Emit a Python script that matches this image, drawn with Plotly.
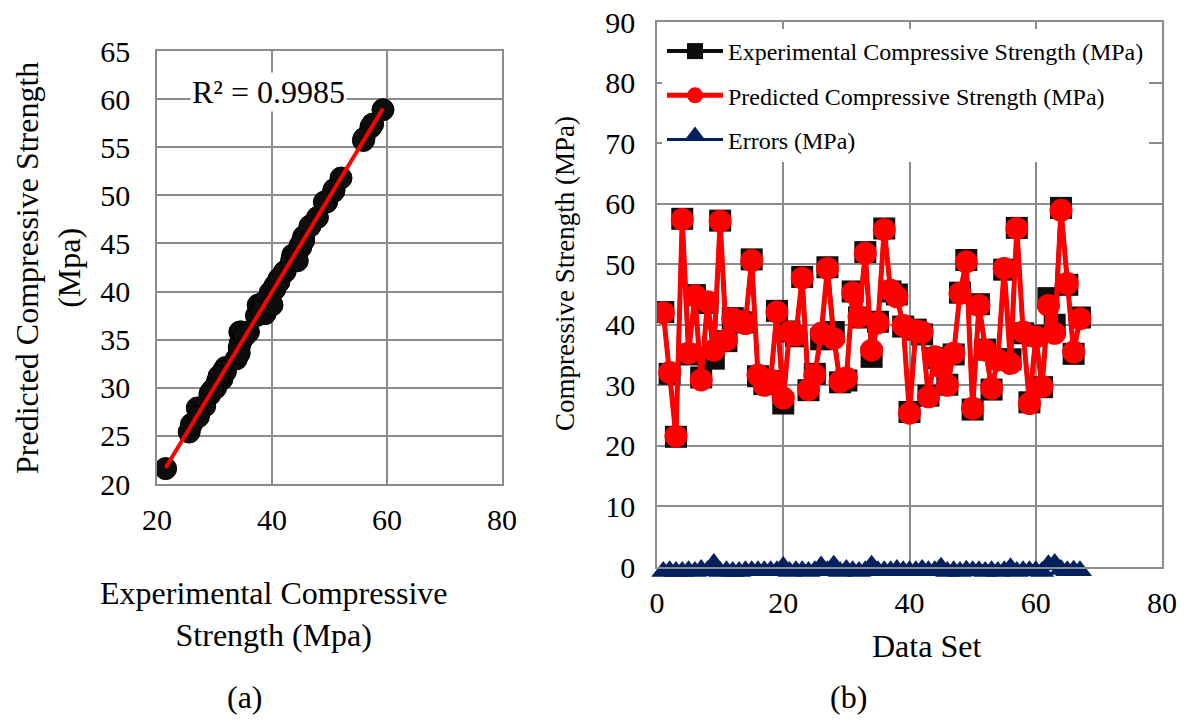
import numpy as np
import plotly.graph_objects as go

data_set = list(range(1, 68))
predicted = [42.0, 32.1, 21.6, 57.4, 35.3, 44.8, 30.9, 43.8, 35.8, 57.1,
             37.5, 41.0, 40.6, 40.2, 50.6, 31.7, 30.0, 30.9, 42.1, 27.9,
             38.8, 38.3, 47.7, 29.3, 31.7, 38.6, 49.3, 37.7, 30.6, 31.2,
             45.3, 41.3, 51.8, 35.8, 40.3, 55.7, 45.7, 44.6, 39.9, 25.4,
             39.0, 38.8, 28.1, 34.7, 33.0, 30.0, 35.3, 45.2, 50.4, 26.2,
             43.2, 35.8, 29.5, 34.2, 49.3, 33.6, 55.9, 38.8, 27.0, 38.0,
             29.8, 43.2, 38.6, 58.9, 46.8, 35.5, 41.0]
experimental = [42.1, 31.9, 21.5, 57.5, 35.1, 44.9, 31.3, 43.6, 34.4, 57.2,
                37.3, 41.1, 40.5, 40.4, 50.8, 31.5, 30.2, 30.7, 42.3, 27.0,
                38.9, 38.1, 47.9, 29.2, 31.9, 37.6, 49.5, 38.8, 30.5, 30.8,
                45.5, 41.2, 52.0, 34.7, 40.5, 55.9, 45.5, 45.0, 39.7, 25.6,
                39.2, 38.4, 28.3, 34.5, 33.8, 30.1, 35.1, 45.3, 50.7, 26.0,
                43.4, 35.9, 29.3, 34.3, 49.1, 34.3, 56.0, 38.6, 27.2, 38.2,
                29.7, 44.4, 40.0, 59.3, 46.6, 35.2, 41.2]
errors = [0.1, 0.2, 0.1, 0.1, 0.2, 0.1, 0.4, 0.2, 1.4, 0.1,
          0.2, 0.1, 0.1, 0.2, 0.2, 0.2, 0.2, 0.2, 0.2, 0.9,
          0.1, 0.2, 0.2, 0.1, 0.2, 1.0, 0.2, 1.1, 0.1, 0.4,
          0.2, 0.1, 0.2, 1.1, 0.2, 0.2, 0.2, 0.4, 0.2, 0.2,
          0.2, 0.4, 0.2, 0.2, 0.8, 0.1, 0.2, 0.1, 0.3, 0.2,
          0.2, 0.1, 0.2, 0.1, 0.2, 0.7, 0.1, 0.2, 0.2, 0.2,
          0.1, 1.2, 1.4, 0.4, 0.2, 0.3, 0.2]
r2_label = "R² = 0.9985"

FONT = "Liberation Serif"
GRID = "#8c8c8c"
W, H = 1185, 720

def px(x):
    return x / W

def py(y):
    return 1 - y / H

# trendline (a)
coef = np.polyfit(experimental, predicted, 1)
tx = np.array([min(experimental), max(experimental)])
ty = np.polyval(coef, tx)

fig = go.Figure()

# (a) scatter
fig.add_trace(go.Scatter(
    x=experimental, y=predicted, mode="markers",
    marker=dict(symbol="circle", size=22, color="#0d0d0d",
                line=dict(color="#000000", width=1)),
    showlegend=False, xaxis="x", yaxis="y"))
fig.add_trace(go.Scatter(
    x=tx, y=ty, mode="lines", line=dict(color="#ff0000", width=4),
    showlegend=False, xaxis="x", yaxis="y"))

# (b) series
fig.add_trace(go.Scatter(
    x=data_set, y=experimental, mode="lines+markers",
    name="Experimental Compressive Strength (MPa)", legendgroup="g1",
    line=dict(color="#0d0d0d", width=4),
    marker=dict(symbol="square", size=22, color="#0d0d0d"),
    xaxis="x2", yaxis="y2"))
fig.add_trace(go.Scatter(
    x=data_set, y=predicted, mode="lines+markers",
    name="Predicted Compressive Strength (MPa)", legendgroup="g2",
    line=dict(color="#ff0000", width=5),
    marker=dict(symbol="circle", size=23, color="#ff0000"),
    xaxis="x2", yaxis="y2"))
fig.add_trace(go.Scatter(
    x=data_set, y=errors, mode="lines+markers",
    name="Errors (MPa)", legendgroup="g3", cliponaxis=False,
    line=dict(color="#002060", width=3),
    marker=dict(symbol="triangle-up", size=21, color="#002060", standoff=5),
    xaxis="x2", yaxis="y2"))

axis_common = dict(showgrid=True, gridcolor=GRID, gridwidth=1.5,
                   showline=True, linecolor=GRID, linewidth=1.5, mirror=True,
                   zeroline=False, ticks="", automargin=False,
                   ticklabeloverflow="allow",
                   tickfont=dict(family=FONT, size=30, color="#000000"))

fig.update_layout(
    width=W, height=H,
    margin=dict(l=0, r=0, t=0, b=0, autoexpand=False),
    paper_bgcolor="white", plot_bgcolor="white",
    font=dict(family=FONT, color="#000000"),
    xaxis=dict(domain=[px(157), px(502)], range=[20, 80], dtick=20,
               tick0=20, anchor="y", ticklabelstandoff=8, **axis_common),
    yaxis=dict(domain=[py(484), py(51)], range=[20, 65], dtick=5,
               tick0=20, anchor="x", ticklabelstandoff=19, **axis_common),
    xaxis2=dict(domain=[px(657), px(1162)], range=[0, 80], dtick=20,
                anchor="y2", ticklabelstandoff=8, **axis_common),
    yaxis2=dict(domain=[py(567), py(22)], range=[0, 90], dtick=10,
                anchor="x2", ticklabelstandoff=14, **axis_common),
    legend=dict(x=px(662), y=py(29), xanchor="left", yanchor="top",
                bgcolor="white", borderwidth=0, traceorder="grouped",
                font=dict(family=FONT, size=24, color="#000000"),
                tracegroupgap=10, itemwidth=56),
    showlegend=True,
)

ann = [
    dict(text=r2_label, x=px(268), y=py(92), font=dict(size=32),
         bgcolor="white"),
    dict(text="Predicted Compressive Strength<br>(Mpa)", x=px(48), y=py(268),
         textangle=-90, font=dict(size=32)),
    dict(text="Experimental Compressive<br>Strength (Mpa)", x=px(273),
         y=py(614), font=dict(size=32)),
    dict(text="(a)", x=px(245), y=py(697), font=dict(size=32)),
    dict(text="Compressive Strength (MPa)", x=px(565), y=py(274),
         textangle=-90, font=dict(size=27)),
    dict(text="Data Set", x=px(926), y=py(646), font=dict(size=32)),
    dict(text="(b)", x=px(848), y=py(697), font=dict(size=32)),
]
for a in ann:
    a.update(xref="paper", yref="paper", showarrow=False,
             xanchor="center", yanchor="middle")
    a["font"].update(family=FONT, color="#000000")
fig.update_layout(annotations=ann)

fig.write_html("out.html",
               config={"displayModeBar": False},
               post_script="document.body.style.margin='0';"
                           "document.body.style.overflow='hidden';")
